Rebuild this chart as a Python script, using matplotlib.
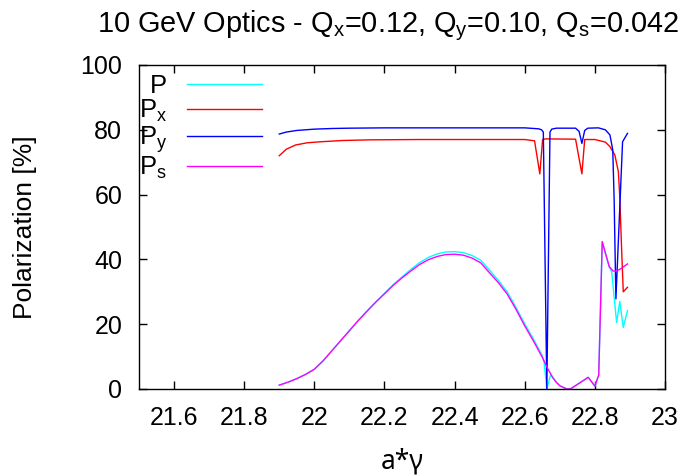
import matplotlib
matplotlib.use("Agg")
import matplotlib.pyplot as plt
from matplotlib.ticker import FormatStrFormatter

plt.rcParams['font.family'] = ['Liberation Sans', 'DejaVu Sans']
plt.rcParams['mathtext.fontset'] = 'custom'
plt.rcParams['mathtext.rm'] = 'Liberation Sans'
plt.rcParams['mathtext.it'] = 'Liberation Sans'
plt.rcParams['mathtext.default'] = 'regular'

# ---- data ----
p_x = [21.900, 21.925, 21.950, 21.975, 22.000, 22.025, 22.050, 22.075, 22.100, 22.125,
       22.150, 22.175, 22.200, 22.225, 22.250, 22.275, 22.300, 22.325, 22.350, 22.375,
       22.400, 22.425, 22.450, 22.475, 22.500, 22.525, 22.550, 22.575, 22.600, 22.625,
       22.650, 22.655, 22.663, 22.674, 22.680, 22.690, 22.700, 22.720, 22.730, 22.757,
       22.781, 22.800, 22.811, 22.821, 22.841, 22.848, 22.862, 22.871, 22.881, 22.893]
p_y = [1.2, 2.1, 3.2, 4.5, 6.1, 8.7, 11.8, 14.9, 18.0, 21.1,
       24.0, 26.8, 29.5, 32.2, 34.6, 36.9, 39.0, 40.6, 41.7, 42.3,
       42.4, 42.1, 41.2, 39.7, 36.6, 33.5, 30.0, 25.2, 20.1, 15.4,
       10.3, 8.5, 0.0, 4.5, 3.5, 2.1, 1.0, 0.0, 0.0, 1.9,
       3.6, 0.9, 4.3, 45.3, 37.6, 36.2, 20.5, 27.0, 19.0, 24.2]

px_x = [21.90, 21.92, 21.946, 21.98, 22.017, 22.08, 22.16, 22.30, 22.60, 22.628,
        22.643, 22.651, 22.66, 22.745, 22.763, 22.771, 22.80, 22.83, 22.843, 22.857,
        22.867, 22.871, 22.876, 22.881, 22.893]
px_y = [72.0, 74.0, 75.3, 76.0, 76.3, 76.7, 76.9, 77.0, 77.0, 76.6,
        66.4, 77.0, 77.2, 77.1, 66.4, 77.0, 77.0, 76.2, 74.8, 72.2,
        67.1, 59.4, 43.9, 30.0, 31.4]

py_x = [21.90, 21.92, 21.95, 22.00, 22.05, 22.10, 22.20, 22.60, 22.64, 22.648,
        22.653, 22.663, 22.672, 22.677, 22.69, 22.745, 22.755, 22.763, 22.771, 22.78,
        22.81, 22.83, 22.843, 22.851, 22.855, 22.86, 22.879, 22.893]
py_y = [78.7, 79.3, 79.8, 80.2, 80.4, 80.5, 80.6, 80.6, 80.3, 80.0,
        79.3, 0.0, 79.3, 80.2, 80.5, 80.5, 79.5, 75.8, 79.8, 80.5,
        80.6, 80.0, 78.4, 73.8, 58.3, 27.8, 76.3, 78.9]

ps_x = [21.900, 21.925, 21.950, 21.975, 22.000, 22.025, 22.050, 22.075, 22.100, 22.125,
        22.150, 22.175, 22.200, 22.225, 22.250, 22.275, 22.300, 22.325, 22.350, 22.375,
        22.400, 22.425, 22.450, 22.475, 22.500, 22.525, 22.550, 22.575, 22.600, 22.625,
        22.650, 22.665, 22.680, 22.690, 22.700, 22.720, 22.730, 22.757, 22.781, 22.800,
        22.811, 22.821, 22.841, 22.852, 22.862, 22.875, 22.893]
ps_y = [1.2, 2.1, 3.2, 4.5, 6.1, 8.7, 11.8, 14.9, 18.0, 21.1,
        24.0, 26.8, 29.4, 32.0, 34.3, 36.4, 38.4, 39.9, 40.9, 41.5,
        41.6, 41.3, 40.4, 38.9, 35.8, 32.8, 29.3, 24.6, 19.5, 14.8,
        9.8, 6.4, 3.5, 2.1, 1.0, 0.0, 0.0, 1.9, 3.6, 0.9,
        4.3, 45.5, 37.8, 36.4, 36.4, 37.2, 38.6]

series_labels = ['P', '$P_x$', '$P_y$', '$P_s$']
series_colors = ['#00ffff', '#ff0000', '#0000ff', '#ff00ff']

x_ticks = [21.6, 21.8, 22.0, 22.2, 22.4, 22.6, 22.8, 23.0]
y_ticks = [0, 20, 40, 60, 80, 100]

fig = plt.figure(figsize=(6.86, 4.76), dpi=100)
ax = fig.add_axes([139/686, 1-389/476, (665-139)/686, (389-65)/476])

for (xs, ys), lab, col in zip([(p_x, p_y), (px_x, px_y), (py_x, py_y), (ps_x, ps_y)],
                              series_labels, series_colors):
    ax.plot(xs, ys, color=col, lw=1.0, label=lab)

ax.set_xlim(21.5, 23.0)
ax.set_ylim(0, 100)
ax.set_xticks(x_ticks)
ax.set_yticks(y_ticks)
ax.xaxis.set_major_formatter(FormatStrFormatter('%g'))
ax.tick_params(direction='in', length=6, width=1, top=True, right=True,
               labelsize=18, pad=12)
for s in ax.spines.values():
    s.set_linewidth(1.0)

ax.set_xlabel('a*γ', fontsize=19, labelpad=13, fontfamily=['Noto Sans'])
ax.set_ylabel('Polarization [%]', fontsize=19, labelpad=31)

fig.text(388/686, 1-32/476, '10 GeV Optics - Q$_x$=0.12, Q$_y$=0.10, Q$_s$=0.042',
         ha='center', va='baseline', fontsize=20.8)

leg = ax.legend(loc='upper right', bbox_to_anchor=((262-139)/526, (389-74)/324),
                markerfirst=False, frameon=False, fontsize=18.5,
                handlelength=2.9, handletextpad=0.8, labelspacing=0.0,
                borderaxespad=0, borderpad=0)

fig.savefig('out.png', dpi=100)
